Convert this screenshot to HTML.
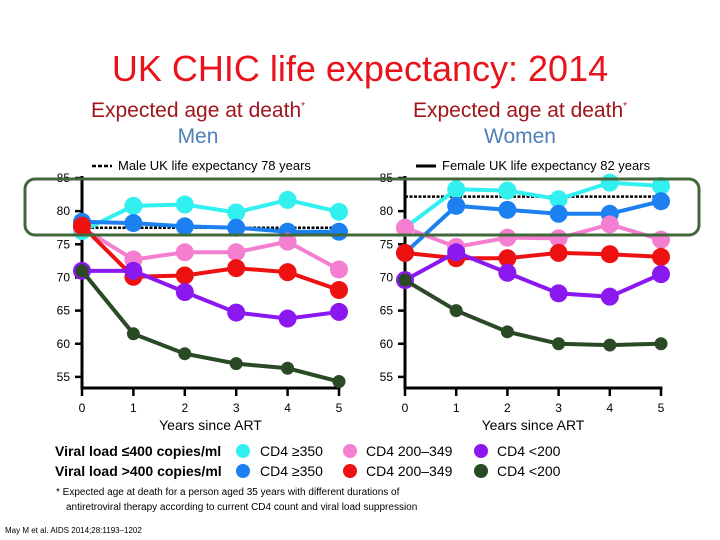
<!DOCTYPE html>
<html><head><meta charset="utf-8"><style>
body{margin:0;background:#fff;}
svg{display:block;font-family:"Liberation Sans Narrow","Liberation Sans",sans-serif;}
</style></head><body>
<svg id="c" width="720" height="540" viewBox="0 0 720 540">
<text x="360" y="81" text-anchor="middle" font-size="36" fill="#e8131b">UK CHIC life expectancy: 2014</text>
<text x="198" y="117" text-anchor="middle" font-size="21" fill="#a0151b">Expected age at death<tspan font-size="10" dy="-8">*</tspan></text>
<text x="198" y="143" text-anchor="middle" font-size="21" fill="#4e7fb6">Men</text>
<text x="520" y="117" text-anchor="middle" font-size="21" fill="#a0151b">Expected age at death<tspan font-size="10" dy="-8">*</tspan></text>
<text x="520" y="143" text-anchor="middle" font-size="21" fill="#4e7fb6">Women</text>
<g><line x1="92" y1="166" x2="112" y2="166" stroke="#000" stroke-width="2.5" stroke-dasharray="4,2"/><text x="118" y="170" font-size="13">Male UK life expectancy 78 years</text></g>
<g><line x1="416" y1="166" x2="436" y2="166" stroke="#000" stroke-width="3"/><text x="442" y="170" font-size="13">Female UK life expectancy 82 years</text></g>
<g id="plots"></g>
<rect x="25" y="179" width="674" height="56" rx="10" fill="none" stroke="#41683a" stroke-width="3"/>
<g font-size="14">
<text x="55" y="456" font-weight="bold">Viral load ≤400 copies/ml</text>
<text x="55" y="476" font-weight="bold">Viral load &gt;400 copies/ml</text>
<circle cx="243" cy="451" r="7" fill="#33f0f0"/><text x="260" y="456">CD4 ≥350</text>
<circle cx="243" cy="471" r="7" fill="#1c80f0"/><text x="260" y="476">CD4 ≥350</text>
<circle cx="350" cy="451" r="7" fill="#f47ed0"/><text x="366" y="456">CD4 200–349</text>
<circle cx="350" cy="471" r="7" fill="#ee1111"/><text x="366" y="476">CD4 200–349</text>
<circle cx="481" cy="451" r="7" fill="#8a18ef"/><text x="497" y="456">CD4 &lt;200</text>
<circle cx="481" cy="471" r="7" fill="#2a4a26"/><text x="497" y="476">CD4 &lt;200</text>
</g>
<text x="56" y="495" font-size="10">* Expected age at death for a person aged 35 years with different durations of</text>
<text x="66" y="510" font-size="10">antiretroviral therapy according to current CD4 count and viral load suppression</text>
<text x="5" y="533" font-size="8">May M et al. AIDS 2014;28:1193–1202</text>
</svg>
<script>
const years=[0,1,2,3,4,5];
const yTicks=[55,60,65,70,75,80,85];
const seriesNames=['cyan','blue','pink','red','purple','dkgreen'];
const seriesColors=['#33f0f0','#1c80f0','#f47ed0','#ee1111','#8a18ef','#2a4a26'];
const menCyan=[77,80.8,81,79.8,81.7,79.9];
const menBlue=[78.4,78.2,77.7,77.5,76.9,76.9];
const menPink=[77.5,72.7,73.8,73.8,75.4,71.2];
const menRed=[77.8,70.1,70.3,71.4,70.8,68.1];
const menPurple=[71,71,67.8,64.7,63.8,64.8];
const menDkgreen=[71,61.5,58.5,57,56.3,54.3];
const womenCyan=[77.5,83.3,83.1,81.8,84.3,83.8];
const womenBlue=[73.7,80.8,80.2,79.6,79.6,81.5];
const womenPink=[77.5,74.6,76,75.9,78,75.7];
const womenRed=[73.7,72.9,72.9,73.7,73.5,73.1];
const womenPurple=[69.6,73.8,70.7,67.6,67.1,70.5];
const womenDkgreen=[69.6,65,61.8,60,59.8,60];
const menLE=[77.5];
const womenLE=[82.2];
const NS='http://www.w3.org/2000/svg';
const root=document.getElementById('plots');
function mk(t,a,p){const e=document.createElementNS(NS,t);for(const k in a)e.setAttribute(k,a[k]);p.appendChild(e);return e;}
function panel(name,x0,x1,data,le){
  const yS=v=>178+(85-v)*6.63;
  const xS=v=>x0+(x1-x0)*v/5;
  const g=mk('g',{},root);
  
  
  const ax=mk('g',{stroke:'#000','stroke-width':3},g);
  
  
  mk('line',{x1:x0,y1:176,x2:x0,y2:389},ax);
  mk('line',{x1:x0-1.5,y1:388,x2:x1+1.5,y2:388},ax);
  yTicks.forEach(t=>{mk('line',{x1:x0-7,y1:yS(t),x2:x0,y2:yS(t),'stroke-width':2.5},ax);
    const tx=mk('text',{x:x0-12,y:yS(t)+4,'text-anchor':'end','font-size':12,fill:'#000'},g);tx.textContent=t;
    
    });
  years.forEach(t=>{mk('line',{x1:xS(t),y1:388,x2:xS(t),y2:396,'stroke-width':2.5},ax);
    const tx=mk('text',{x:xS(t),y:412,'text-anchor':'middle','font-size':12,fill:'#000'},g);tx.textContent=t;
    
    });
  const xt=mk('text',{x:(x0+x1)/2,y:430,'text-anchor':'middle','font-size':14,fill:'#000'},g);xt.textContent='Years since ART';
  
  
  const ll=mk('line',{x1:x0,y1:yS(le[0]),x2:x1,y2:yS(le[0]),stroke:'#000','stroke-width':2.5,'stroke-dasharray':'3,1.5'},g);
  
  
  data.forEach((d,i)=>{
    const s=mk('g',{},g);
    
    
    const r=i==5?6.5:9;
    mk('polyline',{points:d.map((v,j)=>xS(years[j])+','+yS(v)).join(' '),fill:'none',stroke:seriesColors[i],'stroke-width':4},s);
    d.forEach((v,j)=>{const c=mk('circle',{cx:xS(years[j]),cy:yS(v),r:r,fill:seriesColors[i]},s);
      
      });
  });
}
panel('men',82,339,[menCyan,menBlue,menPink,menRed,menPurple,menDkgreen],menLE);
panel('women',405,661,[womenCyan,womenBlue,womenPink,womenRed,womenPurple,womenDkgreen],womenLE);
</script>
</body></html>
